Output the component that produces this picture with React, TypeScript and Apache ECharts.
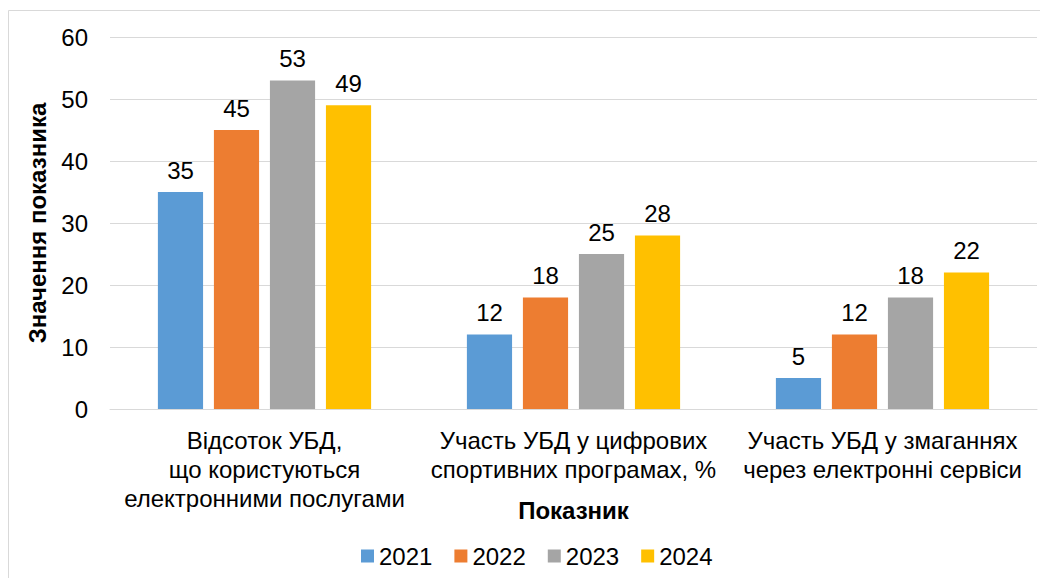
import React, { useEffect, useRef } from "react";
import * as echarts from "echarts";

const categories = [
  "Відсоток УБД,\nщо користуються\nелектронними послугами",
  "Участь УБД у цифрових\nспортивних програмах, %",
  "Участь УБД у змаганнях\nчерез електронні сервіси",
];
const years = ["2021", "2022", "2023", "2024"];
const values2021 = [35, 12, 5];
const values2022 = [45, 18, 12];
const values2023 = [53, 25, 18];
const values2024 = [49, 28, 22];
const colors = ["#5B9BD5", "#ED7D31", "#A5A5A5", "#FFC000"];
const yTicks = { min: 0, max: 60, interval: 10 };

const FONT = "Liberation Sans, Arial, sans-serif";

export default function App() {
  const ref = useRef<HTMLDivElement>(null);
  useEffect(() => {
    document.body.style.margin = "0";
    if (!ref.current) return;
    const chart = echarts.init(ref.current, undefined, { renderer: "svg" });
    const seriesData = [values2021, values2022, values2023, values2024];
    chart.setOption({
      animation: false,
      textStyle: { fontFamily: FONT },
      graphic: [
        {
          type: "rect",
          shape: { x: 8.5, y: 10.5, width: 1040, height: 600 },
          style: { fill: "none", stroke: "#d9d9d9", lineWidth: 1 },
          silent: true,
          z: -1,
        },
      ],
      legend: {
        bottom: 5,
        left: 356,
        itemWidth: 13,
        itemHeight: 13,
        itemGap: 22,
        icon: "rect",
        textStyle: { fontSize: 24, color: "#000", fontFamily: FONT },
        data: years,
      },
      grid: { left: 110, right: 3, top: 37, bottom: 169 },
      xAxis: {
        type: "category",
        data: categories,
        axisLine: { lineStyle: { color: "#d9d9d9" } },
        axisTick: { show: false },
        axisLabel: {
          fontSize: 24,
          color: "#000",
          lineHeight: 29,
          margin: 17,
          interval: 0,
          fontFamily: FONT,
        },
        name: "Показник",
        nameLocation: "middle",
        nameGap: 89,
        nameMoveOverlap: false,
        nameTextStyle: { fontSize: 24, fontWeight: "bold", color: "#000", fontFamily: FONT },
      },
      yAxis: {
        type: "value",
        min: yTicks.min,
        max: yTicks.max,
        interval: yTicks.interval,
        axisLine: { show: false },
        axisTick: { show: false },
        splitLine: { lineStyle: { color: "#d9d9d9" } },
        axisLabel: { fontSize: 24, color: "#000", margin: 22, fontFamily: FONT },
        name: "Значення показника",
        nameLocation: "middle",
        nameGap: 61,
        nameMoveOverlap: false,
        nameTextStyle: { fontSize: 24, fontWeight: "bold", color: "#000", fontFamily: FONT },
      },
      series: years.map((y, i) => ({
        name: y,
        type: "bar",
        data: seriesData[i],
        barGap: "24%",
        barCategoryGap: "31%",
        itemStyle: { color: colors[i] },
        label: {
          show: true,
          position: "top",
          distance: 10,
          fontSize: 24,
          color: "#000",
          fontFamily: FONT,
        },
      })),
    });
    return () => chart.dispose();
  }, []);
  return <div ref={ref} style={{ width: 1040, height: 578 }} />;
}
